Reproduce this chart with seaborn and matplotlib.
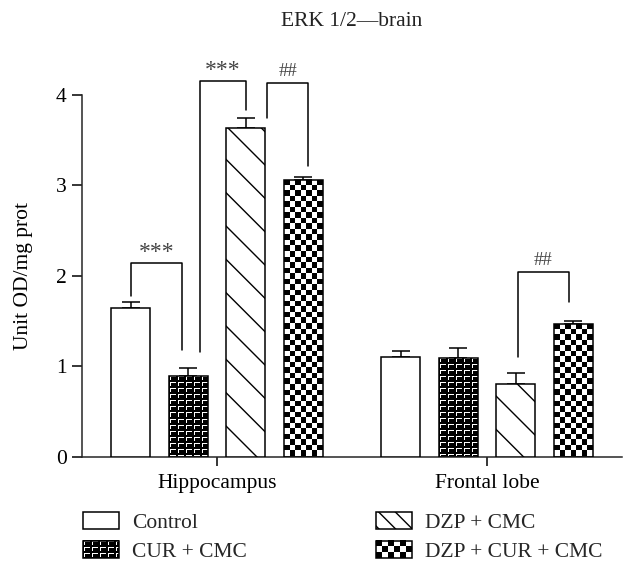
import matplotlib

matplotlib.use("Agg")

import matplotlib.pyplot as plt
import numpy as np
import pandas as pd
import seaborn as sns
from matplotlib.colors import Normalize
from matplotlib.image import BboxImage
from matplotlib.legend_handler import HandlerBase
from matplotlib.patches import Rectangle
from matplotlib.transforms import Bbox, TransformedBbox

REGIONS = ["Hippocampus", "Frontal lobe"]
GROUPS = ["Control", "CUR + CMC", "DZP + CMC", "DZP + CUR + CMC"]
HIPPOCAMPUS_MEAN = [1.64, 0.89, 3.64, 3.06]
HIPPOCAMPUS_ERR = [0.07, 0.09, 0.10, 0.03]
FRONTAL_MEAN = [1.10, 1.09, 0.80, 1.47]
FRONTAL_ERR = [0.07, 0.11, 0.12, 0.03]

# (region, left group, right group, label, left leg bottom, top, right leg bottom, left dx, right dx)
BRACKETS = [
    (0, 0, 1, "***", 1.78, 2.14, 1.18, 0.0, -0.022),
    (0, 1, 2, "***", 1.16, 4.15, 3.83, 0.044, 0.0),
    (0, 2, 3, "##", 3.75, 4.13, 3.21, 0.08, 0.018),
    (1, 2, 3, "##", 1.10, 2.04, 1.71, 0.007, -0.015),
]

FONT = 15.5
LW = 1.1

# white "Г" marks on black, the CUR + CMC fill
CUR_TILE = np.zeros((6, 8))
CUR_TILE[1, 1:7] = 1
CUR_TILE[2:5, 1] = 1


def checker(rows, cols):
    return (np.add.outer(np.arange(rows), np.arange(cols)) % 2).astype(float)


def cur_pattern(rows, cols):
    reps = (rows // CUR_TILE.shape[0] + 1, cols // CUR_TILE.shape[1] + 1)
    return np.tile(CUR_TILE, reps)[:rows, :cols]


class ImageHandler(HandlerBase):
    def __init__(self, pattern):
        super().__init__()
        self.pattern = pattern

    def create_artists(self, legend, orig_handle, xdescent, ydescent, width, height, fontsize, trans):
        box = TransformedBbox(Bbox.from_bounds(-xdescent, -ydescent, width, height), trans)
        image = BboxImage(box, cmap="gray", norm=Normalize(0, 1), interpolation="nearest")
        image.set_data(self.pattern)
        outline = Rectangle((-xdescent, -ydescent), width, height, facecolor="none",
                            edgecolor="black", linewidth=LW, transform=trans)
        return [image, outline]


sns.set_theme(style="ticks")
plt.rcParams["font.family"] = ["Liberation Serif", "DejaVu Serif"]
plt.rcParams["hatch.linewidth"] = 1.0

frame = pd.DataFrame({
    "region": np.repeat(REGIONS, len(GROUPS)),
    "group": GROUPS * len(REGIONS),
    "value": HIPPOCAMPUS_MEAN + FRONTAL_MEAN,
    "err": HIPPOCAMPUS_ERR + FRONTAL_ERR,
})

fig = plt.figure(figsize=(6.37, 5.74), dpi=100)
ax = fig.add_axes([82 / 637, 1 - 456.5 / 574, 540 / 637, 361.5 / 574])

sns.barplot(data=frame, x="region", y="value", hue="group", order=REGIONS, hue_order=GROUPS,
            palette=["white"] * 4, saturation=1, edgecolor="black", linewidth=LW,
            width=0.852, gap=0.33, errorbar=None, legend=False, ax=ax)
ax.set_xlim(-0.5, 1.5)
ax.set_ylim(0, 4)

bars = sorted(ax.patches, key=lambda p: p.get_x())
centers = np.array([b.get_x() + b.get_width() / 2 for b in bars])

ax.errorbar(centers, frame["value"], yerr=[np.zeros(len(frame)), frame["err"]], fmt="none",
            ecolor="black", elinewidth=LW, capsize=6.8, capthick=LW, zorder=1)

for index, bar in enumerate(bars):
    group = index % len(GROUPS)
    bar.set_zorder(3)
    if group == 2:
        bar.set_hatch("\\")
    if group in (1, 3):
        (px0, py0), (px1, py1) = ax.transData.transform(
            [(bar.get_x(), 0), (bar.get_x() + bar.get_width(), bar.get_height())])
        w_px, h_px = int(round(px1 - px0)), int(round(py1 - py0))
        if group == 3:
            rows = max(1, int(round(h_px / (w_px / 7))))
            pattern = checker(rows, 7)
        else:
            pattern = cur_pattern(h_px, w_px)
        image = ax.imshow(pattern, cmap="gray", vmin=0, vmax=1, interpolation="nearest", aspect="auto",
                          extent=(bar.get_x(), bar.get_x() + bar.get_width(), 0, bar.get_height()),
                          zorder=2)
        image.set_clip_path(bar)
        bar.set_facecolor("none")

ax.set_xlim(-0.5, 1.5)
ax.set_ylim(0, 4)

for region, left, right, label, y_left, y_top, y_right, dx_left, dx_right in BRACKETS:
    x_left = centers[region * len(GROUPS) + left] + dx_left
    x_right = centers[region * len(GROUPS) + right] + dx_right
    ax.plot([x_left, x_left, x_right, x_right], [y_left, y_top, y_top, y_right],
            color="black", linewidth=LW, clip_on=False, zorder=4)
    star = label.startswith("*")
    ax.text((x_left + x_right) / 2, y_top + (0.0 if star else 0.04), label, ha="center", va="bottom",
            fontsize=17 if star else 13.5, color="#444444", clip_on=False)

sns.despine(ax=ax)
for side in ("left", "bottom"):
    ax.spines[side].set_linewidth(LW)
ax.tick_params(axis="both", labelsize=FONT, width=LW, color="black", labelcolor="black")
ax.tick_params(axis="y", length=7, pad=4)
ax.tick_params(axis="x", length=6.5, pad=6)
ax.set_yticks([0, 1, 2, 3, 4])
ax.set_xlabel("")
ax.set_ylabel("Unit OD/mg prot", fontsize=FONT, color="black")
ax.yaxis.set_label_coords(-0.09, 0.5)

fig.text(352 / 637, 1 - 22 / 574, "ERK 1/2\u2014brain", ha="center", va="center",
         fontsize=FONT, color="#222222")

control_handle = Rectangle((0, 0), 1, 1, facecolor="white", edgecolor="black", linewidth=LW)
cur_handle = Rectangle((0, 0), 1, 1)
dzp_handle = Rectangle((0, 0), 1, 1, facecolor="white", edgecolor="black", linewidth=LW, hatch="\\\\")
combo_handle = Rectangle((0, 0), 1, 1)

ax.legend([control_handle, cur_handle, dzp_handle, combo_handle], GROUPS, ncol=2,
          handler_map={cur_handle: ImageHandler(cur_pattern(18, 36)),
                       combo_handle: ImageHandler(checker(3, 6))},
          loc="upper left", bbox_to_anchor=(83 / 637, 1 - 512 / 574), bbox_transform=fig.transFigure,
          frameon=False, fontsize=FONT, handlelength=1.67, handleheight=0.84, handletextpad=0.6,
          columnspacing=6.0, labelspacing=0.38, borderpad=0, borderaxespad=0)

fig.savefig("out.png", dpi=100)
